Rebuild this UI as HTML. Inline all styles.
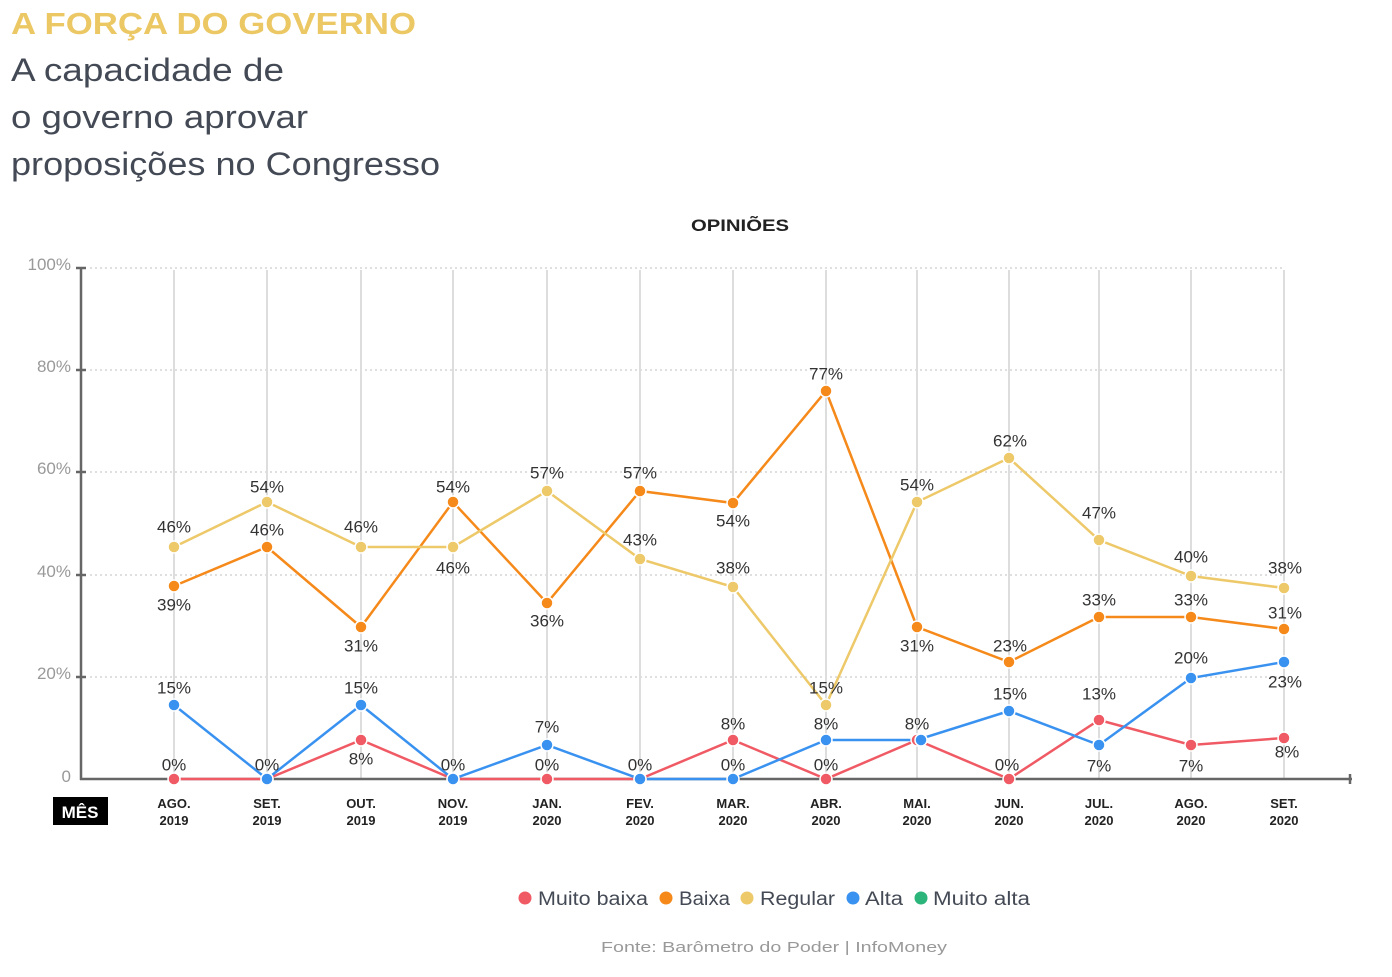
<!DOCTYPE html>
<html><head><meta charset="utf-8"><style>
body{margin:0;background:#fff;width:1392px;height:972px;overflow:hidden;font-family:"Liberation Sans",sans-serif}
</style></head><body>
<svg width="1392" height="972" xmlns="http://www.w3.org/2000/svg" font-family="Liberation Sans, sans-serif">
<text x="11" y="34" font-size="31" font-weight="bold" fill="#ecc865" textLength="405" lengthAdjust="spacingAndGlyphs">A FORÇA DO GOVERNO</text>
<text x="11" y="81" font-size="32" fill="#444a55" textLength="273" lengthAdjust="spacingAndGlyphs">A capacidade de</text>
<text x="11" y="128" font-size="32" fill="#444a55" textLength="297" lengthAdjust="spacingAndGlyphs">o governo aprovar</text>
<text x="11" y="175" font-size="32" fill="#444a55" textLength="429" lengthAdjust="spacingAndGlyphs">proposições no Congresso</text>
<text x="691" y="231" font-size="17" font-weight="bold" fill="#222" textLength="98" lengthAdjust="spacingAndGlyphs">OPINIÕES</text>
<g stroke="#ccc" stroke-dasharray="2,3" stroke-width="1.2">
<line x1="90" y1="268" x2="1285" y2="268"/><line x1="90" y1="370" x2="1285" y2="370"/><line x1="90" y1="472" x2="1285" y2="472"/><line x1="90" y1="575" x2="1285" y2="575"/><line x1="90" y1="677" x2="1285" y2="677"/>
</g>
<g stroke="#ddd" stroke-width="2">
<line x1="174" y1="270" x2="174" y2="779"/><line x1="267" y1="270" x2="267" y2="779"/><line x1="361" y1="270" x2="361" y2="779"/><line x1="453" y1="270" x2="453" y2="779"/><line x1="547" y1="270" x2="547" y2="779"/><line x1="640" y1="270" x2="640" y2="779"/><line x1="733" y1="270" x2="733" y2="779"/><line x1="826" y1="270" x2="826" y2="779"/><line x1="917" y1="270" x2="917" y2="779"/><line x1="1009" y1="270" x2="1009" y2="779"/><line x1="1099" y1="270" x2="1099" y2="779"/><line x1="1191" y1="270" x2="1191" y2="779"/><line x1="1284" y1="270" x2="1284" y2="779"/>
</g>
<g stroke="#666" stroke-width="2.5">
<line x1="81" y1="267" x2="81" y2="780"/><line x1="80" y1="779" x2="1352" y2="779"/>
<line x1="76" y1="268" x2="86" y2="268"/><line x1="76" y1="370" x2="86" y2="370"/><line x1="76" y1="472" x2="86" y2="472"/><line x1="76" y1="575" x2="86" y2="575"/><line x1="76" y1="677" x2="86" y2="677"/><line x1="1350" y1="774" x2="1350" y2="784"/>
</g>
<g font-size="17" fill="#999" text-anchor="end">
<text x="71" y="270">100%</text><text x="71" y="372">80%</text><text x="71" y="474">60%</text><text x="71" y="577">40%</text><text x="71" y="679">20%</text><text x="71" y="782">0</text>
</g>
<rect x="53" y="797" width="55" height="28" fill="#000"/>
<text x="80" y="818" font-size="17" font-weight="bold" fill="#fff" text-anchor="middle">MÊS</text>
<g font-size="13" font-weight="bold" fill="#222" text-anchor="middle">
<text x="174" y="808">AGO.</text><text x="174" y="825">2019</text>
<text x="267" y="808">SET.</text><text x="267" y="825">2019</text>
<text x="361" y="808">OUT.</text><text x="361" y="825">2019</text>
<text x="453" y="808">NOV.</text><text x="453" y="825">2019</text>
<text x="547" y="808">JAN.</text><text x="547" y="825">2020</text>
<text x="640" y="808">FEV.</text><text x="640" y="825">2020</text>
<text x="733" y="808">MAR.</text><text x="733" y="825">2020</text>
<text x="826" y="808">ABR.</text><text x="826" y="825">2020</text>
<text x="917" y="808">MAI.</text><text x="917" y="825">2020</text>
<text x="1009" y="808">JUN.</text><text x="1009" y="825">2020</text>
<text x="1099" y="808">JUL.</text><text x="1099" y="825">2020</text>
<text x="1191" y="808">AGO.</text><text x="1191" y="825">2020</text>
<text x="1284" y="808">SET.</text><text x="1284" y="825">2020</text>
</g>
<g fill="none" stroke-width="2.5">
<polyline stroke="#f05a64" points="174,779 267,779 361,740 453,779 547,779 640,779 733,740 826,779 917,740 1009,779 1099,720 1191,745 1284,738"/>
<polyline stroke="#f5891a" points="174,586 267,547 361,627 453,502 547,603 640,491 733,503 826,391 917,627 1009,662 1099,617 1191,617 1284,629"/>
<polyline stroke="#edc96a" points="174,547 267,502 361,547 453,547 547,491 640,559 733,587 826,705 917,502 1009,458 1099,540 1191,576 1284,588"/>
<polyline stroke="#3a92f0" points="174,705 267,779 361,705 453,779 547,745 640,779 733,779 826,740 917,740 1009,711 1099,745 1191,678 1284,662"/>
</g>
<g fill="#f05a64" stroke="#fff" stroke-width="1.5">
<circle cx="174" cy="779" r="6"/><circle cx="267" cy="779" r="6"/><circle cx="361" cy="740" r="6"/><circle cx="453" cy="779" r="6"/><circle cx="547" cy="779" r="6"/><circle cx="640" cy="779" r="6"/><circle cx="733" cy="740" r="6"/><circle cx="826" cy="779" r="6"/><circle cx="917" cy="740" r="6"/><circle cx="1009" cy="779" r="6"/><circle cx="1099" cy="720" r="6"/><circle cx="1191" cy="745" r="6"/><circle cx="1284" cy="738" r="6"/>
</g>
<g fill="#f5891a" stroke="#fff" stroke-width="1.5">
<circle cx="174" cy="586" r="6"/><circle cx="267" cy="547" r="6"/><circle cx="361" cy="627" r="6"/><circle cx="453" cy="502" r="6"/><circle cx="547" cy="603" r="6"/><circle cx="640" cy="491" r="6"/><circle cx="733" cy="503" r="6"/><circle cx="826" cy="391" r="6"/><circle cx="917" cy="627" r="6"/><circle cx="1009" cy="662" r="6"/><circle cx="1099" cy="617" r="6"/><circle cx="1191" cy="617" r="6"/><circle cx="1284" cy="629" r="6"/>
</g>
<g fill="#edc96a" stroke="#fff" stroke-width="1.5">
<circle cx="174" cy="547" r="6"/><circle cx="267" cy="502" r="6"/><circle cx="361" cy="547" r="6"/><circle cx="453" cy="547" r="6"/><circle cx="547" cy="491" r="6"/><circle cx="640" cy="559" r="6"/><circle cx="733" cy="587" r="6"/><circle cx="826" cy="705" r="6"/><circle cx="917" cy="502" r="6"/><circle cx="1009" cy="458" r="6"/><circle cx="1099" cy="540" r="6"/><circle cx="1191" cy="576" r="6"/><circle cx="1284" cy="588" r="6"/>
</g>
<g fill="#3a92f0" stroke="#fff" stroke-width="1.5">
<circle cx="174" cy="705" r="6"/><circle cx="267" cy="779" r="6"/><circle cx="361" cy="705" r="6"/><circle cx="453" cy="779" r="6"/><circle cx="547" cy="745" r="6"/><circle cx="640" cy="779" r="6"/><circle cx="733" cy="779" r="6"/><circle cx="826" cy="740" r="6"/><circle cx="921" cy="740" r="6"/><circle cx="1009" cy="711" r="6"/><circle cx="1099" cy="745" r="6"/><circle cx="1191" cy="678" r="6"/><circle cx="1284" cy="662" r="6"/>
</g>
<g font-size="17" fill="#333" text-anchor="middle" dominant-baseline="central">
<text x="174" y="527">46%</text><text x="267" y="487">54%</text><text x="361" y="527">46%</text><text x="453" y="568">46%</text><text x="547" y="473">57%</text><text x="640" y="540">43%</text><text x="733" y="568">38%</text><text x="826" y="688">15%</text><text x="917" y="485">54%</text><text x="1010" y="441">62%</text><text x="1099" y="513">47%</text><text x="1191" y="557">40%</text><text x="1285" y="568">38%</text>
<text x="174" y="605">39%</text><text x="267" y="530">46%</text><text x="361" y="646">31%</text><text x="453" y="487">54%</text><text x="547" y="621">36%</text><text x="640" y="473">57%</text><text x="733" y="521">54%</text><text x="826" y="374">77%</text><text x="917" y="646">31%</text><text x="1010" y="646">23%</text><text x="1099" y="600">33%</text><text x="1191" y="600">33%</text><text x="1285" y="613">31%</text>
<text x="174" y="688">15%</text><text x="267" y="765">0%</text><text x="361" y="688">15%</text><text x="453" y="765">0%</text><text x="547" y="727">7%</text><text x="640" y="765">0%</text><text x="733" y="765">0%</text><text x="826" y="724">8%</text><text x="917" y="724">8%</text><text x="1010" y="694">15%</text><text x="1099" y="766">7%</text><text x="1191" y="658">20%</text><text x="1285" y="682">23%</text>
<text x="174" y="765">0%</text><text x="361" y="759">8%</text><text x="547" y="765">0%</text><text x="733" y="724">8%</text><text x="826" y="765">0%</text><text x="1007" y="765">0%</text><text x="1099" y="694">13%</text><text x="1191" y="766">7%</text><text x="1287" y="752">8%</text>
</g>
<g font-size="19" fill="#444a55" lengthAdjust="spacingAndGlyphs">
<circle cx="525" cy="898" r="6.5" fill="#f05a64"/><text x="538" y="905" textLength="110" lengthAdjust="spacingAndGlyphs">Muito baixa</text>
<circle cx="666" cy="898" r="6.5" fill="#f5891a"/><text x="679" y="905" textLength="51" lengthAdjust="spacingAndGlyphs">Baixa</text>
<circle cx="747" cy="898" r="6.5" fill="#edc96a"/><text x="760" y="905" textLength="75" lengthAdjust="spacingAndGlyphs">Regular</text>
<circle cx="853" cy="898" r="6.5" fill="#3a92f0"/><text x="865" y="905" textLength="38" lengthAdjust="spacingAndGlyphs">Alta</text>
<circle cx="921" cy="898" r="6.5" fill="#2cb57a"/><text x="933" y="905" textLength="97" lengthAdjust="spacingAndGlyphs">Muito alta</text>
</g>
<text x="601" y="952" font-size="15" fill="#999" textLength="346" lengthAdjust="spacingAndGlyphs">Fonte: Barômetro do Poder | InfoMoney</text>
</svg>
</body></html>
